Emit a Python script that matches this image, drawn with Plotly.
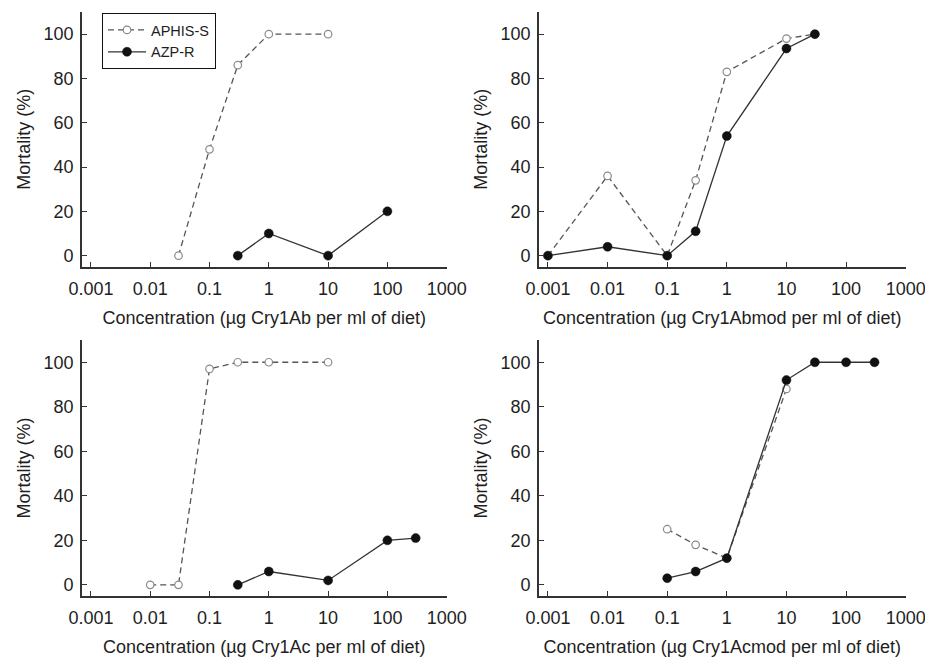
import plotly.graph_objects as go

# ---------------- data ----------------
series_names = ["APHIS-S", "AZP-R"]
x_titles = [
    "Concentration (µg Cry1Ab per ml of diet)",
    "Concentration (µg Cry1Abmod per ml of diet)",
    "Concentration (µg Cry1Ac per ml of diet)",
    "Concentration (µg Cry1Acmod per ml of diet)",
]
y_title = "Mortality (%)"
x_tick_vals = [0.001, 0.01, 0.1, 1, 10, 100, 1000]
x_tick_text = ["0.001", "0.01", "0.1", "1", "10", "100", "1000"]
y_tick_vals = [0, 20, 40, 60, 80, 100]

# Panel 1: Cry1Ab
ab_s_x = [0.03, 0.1, 0.3, 1, 10]
ab_s_y = [0, 48, 86, 100, 100]
ab_r_x = [0.3, 1, 10, 100]
ab_r_y = [0, 10, 0, 20]

# Panel 2: Cry1Abmod
abmod_s_x = [0.001, 0.01, 0.1, 0.3, 1, 10, 30]
abmod_s_y = [0, 36, 0, 34, 83, 98, 100]
abmod_r_x = [0.001, 0.01, 0.1, 0.3, 1, 10, 30]
abmod_r_y = [0, 4, 0, 11, 54, 93.5, 100]

# Panel 3: Cry1Ac
ac_s_x = [0.01, 0.03, 0.1, 0.3, 1, 10]
ac_s_y = [0, 0, 97, 100, 100, 100]
ac_r_x = [0.3, 1, 10, 100, 300]
ac_r_y = [0, 6, 2, 20, 21]

# Panel 4: Cry1Acmod
acmod_s_x = [0.1, 0.3, 1, 10]
acmod_s_y = [25, 18, 12, 88]
acmod_r_x = [0.1, 0.3, 1, 10, 30, 100, 300]
acmod_r_y = [3, 6, 12, 92, 100, 100, 100]

panels = [
    (ab_s_x, ab_s_y, ab_r_x, ab_r_y),
    (abmod_s_x, abmod_s_y, abmod_r_x, abmod_r_y),
    (ac_s_x, ac_s_y, ac_r_x, ac_r_y),
    (acmod_s_x, acmod_s_y, acmod_r_x, acmod_r_y),
]

# ---------------- layout geometry ----------------
W, H = 925, 657


def fx(px):
    return px / W


def fy(py):
    return 1 - py / H


x_domains = [[fx(82), fx(446.7)], [fx(539), fx(905.7)]]
y_domains = [[fy(266.7), fy(12)], [fy(596), fy(340)]]

FONT = "Arial, Liberation Sans, Helvetica, sans-serif"
TXT = "#1e1e1e"
AX = "#333333"

fig = go.Figure()

for i, (sx, sy, rx, ry) in enumerate(panels):
    ax_id = "" if i == 0 else str(i + 1)
    fig.add_trace(go.Scatter(
        x=sx, y=sy, mode="lines+markers", name=series_names[0],
        legendgroup="s", showlegend=(i == 0),
        line=dict(color="#555555", width=1.3, dash="6px,4px"),
        marker=dict(symbol="circle", size=7.5, color="white",
                    line=dict(color="#8a8a8a", width=1.2)),
        xaxis="x" + ax_id, yaxis="y" + ax_id,
    ))
    fig.add_trace(go.Scatter(
        x=rx, y=ry, mode="lines+markers", name=series_names[1],
        legendgroup="r", showlegend=(i == 0),
        line=dict(color="#333333", width=1.3),
        marker=dict(symbol="circle", size=9, color="#111111",
                    line=dict(color="#111111", width=0.5)),
        xaxis="x" + ax_id, yaxis="y" + ax_id,
    ))

layout = dict(
    width=W, height=H, autosize=False,
    margin=dict(l=0, r=0, t=0, b=0, pad=0),
    paper_bgcolor="white", plot_bgcolor="white",
    font=dict(family=FONT, size=18, color=TXT),
    showlegend=True,
    legend=dict(
        x=fx(102), y=fy(13), xanchor="left", yanchor="top",
        bordercolor="#111111", borderwidth=1, bgcolor="white",
        font=dict(size=14.5, family=FONT, color=TXT),
        itemwidth=38, tracegroupgap=0,
    ),
)

for i in range(4):
    col = i % 2
    row = i // 2
    suffix = "" if i == 0 else str(i + 1)
    layout["xaxis" + suffix] = dict(
        type="log", range=[-3.15, 3.0], domain=x_domains[col],
        anchor="y" + suffix,
        tickvals=x_tick_vals, ticktext=x_tick_text,
        ticks="inside", ticklen=5, tickwidth=1.3, tickcolor=AX,
        showline=True, linecolor=AX, linewidth=1.6,
        showgrid=False, zeroline=False, automargin=False,
        ticklabelstandoff=5, ticklabeloverflow="allow",
        title=dict(text=x_titles[i], standoff=13,
                   font=dict(size=18, family=FONT, color=TXT)),
        tickfont=dict(size=18, family=FONT, color=TXT),
    )
    layout["yaxis" + suffix] = dict(
        range=[-5, 110], domain=y_domains[row],
        anchor="x" + suffix,
        tickvals=y_tick_vals,
        ticks="inside", ticklen=5, tickwidth=1.3, tickcolor=AX,
        showline=True, linecolor=AX, linewidth=1.6,
        showgrid=False, zeroline=False, automargin=False,
        ticklabelstandoff=3, ticklabeloverflow="allow",
        title=dict(text=y_title, standoff=8,
                   font=dict(size=18, family=FONT, color=TXT)),
        tickfont=dict(size=18, family=FONT, color=TXT),
    )

fig.update_layout(**layout)
fig.write_html(
    "out.html",
    config={"responsive": False, "displayModeBar": False},
    post_script="document.body.style.margin='0';"
                "document.documentElement.style.overflow='hidden';",
)
